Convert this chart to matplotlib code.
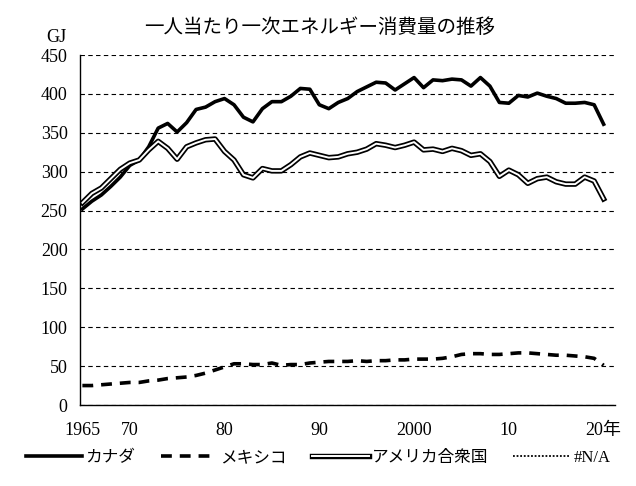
import matplotlib
matplotlib.use("Agg")
import matplotlib.pyplot as plt
import matplotlib.patheffects as pe
import numpy as np

plt.rcParams['font.family'] = ['Liberation Serif', 'Noto Sans CJK JP', 'DejaVu Sans']

years = list(range(1965, 2021))
canada = [252, 262, 270, 281, 293, 308, 315, 332, 356, 362, 351, 363, 380, 383, 390,
          394, 386, 370, 364, 381, 390, 390, 397, 407, 406, 386, 381, 389, 394, 403,
          409, 415, 414, 405, 413, 421, 408, 418, 417, 419, 418, 410, 421, 410, 389,
          388, 398, 396, 401, 397, 394, 388, 388, 389, 386, 361]
mexico = [25, 25, 26, 27, 28, 29, 29, 31, 32, 34, 35, 36, 38, 41, 45,
          49, 53, 53, 52, 52, 54, 51, 52, 52, 54, 55, 56, 56, 56, 57,
          56, 57, 57, 58, 58, 59, 59, 59, 60, 62, 65, 66, 66, 65, 65,
          66, 67, 67, 66, 65, 64, 64, 63, 62, 60, 51]
usa = [260, 272, 279, 291, 303, 311, 315, 328, 339, 330, 316, 332, 337, 341, 342,
       326, 315, 296, 292, 304, 301, 301, 309, 319, 324, 321, 318, 319, 323, 325,
       329, 336, 334, 331, 334, 338, 328, 329, 326, 330, 327, 321, 323, 313, 294,
       302, 296, 285, 291, 293, 287, 284, 284, 293, 288, 265]

xtick_pos = [1965, 1970, 1980, 1990, 2000, 2010, 2020]
xtick_labels = ['1965', '70', '80', '90', '2000', '10', '20年']
yticks = list(range(0, 451, 50))

fig = plt.figure(figsize=(6.36, 4.86), dpi=100)
ax = fig.add_axes([80/636, 1 - 405/486, (615-80)/636, (405-55)/486])

ax.plot(years, canada, color='black', lw=2.6, solid_joinstyle='round', label='カナダ')
ax.plot(years, mexico, color='black', lw=2.6, ls=(0, (3, 2.2)), label='メキシコ')
ax.plot(years, usa, color='white', lw=1.4, label='アメリカ合衆国',
        path_effects=[pe.Stroke(linewidth=3.9, foreground='black'), pe.Normal()])
ax.plot([], [], color='black', lw=1.3, ls=(0, (1, 1)), label='#N/A')

ax.set_xlim(1964.75, 2021.2)
ax.set_ylim(0, 450)
ax.set_yticks(yticks)
ax.set_xticks(xtick_pos)
ax.set_xticklabels(xtick_labels)
ax.tick_params(axis='both', length=0, labelsize=13)
ax.tick_params(axis='y', pad=9)
ax.tick_params(axis='x', pad=12)
ax.yaxis.grid(True, color='black', ls=(0, (4, 3)), lw=0.8)
ax.set_axisbelow(True)
for s in ['top', 'right']:
    ax.spines[s].set_visible(False)
for s in ['left', 'bottom']:
    ax.spines[s].set_linewidth(1.0)

fig.text(320/636, 1 - 28/486, '一人当たり一次エネルギー消費量の推移', ha='center', va='center', fontsize=14)
fig.text(56/636, 1 - 38/486, 'GJ', ha='center', va='center', fontsize=13)

leg = fig.legend(loc='center', bbox_to_anchor=(0.5, 1 - 458/486), ncol=4, frameon=False,
                 fontsize=12, handlelength=3.4, columnspacing=1.5, handletextpad=0.2)

fig.savefig('out.png', dpi=100)
